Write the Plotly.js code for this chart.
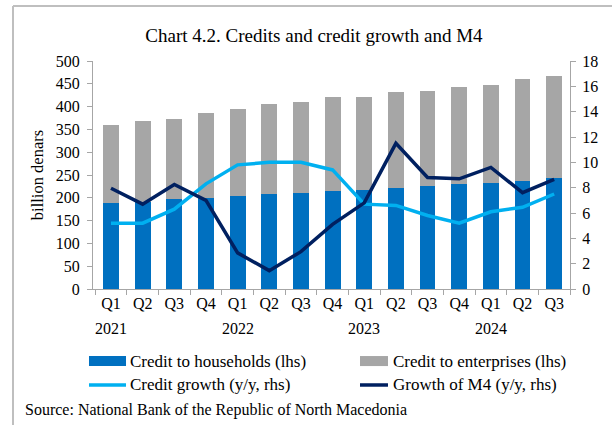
<!DOCTYPE html>
<html><head><meta charset="utf-8">
<script src="https://cdn.plot.ly/plotly-3.0.1.min.js"></script>
<style>html,body{margin:0;padding:0;background:#fff}#chart{width:612px;height:425px}</style>
</head><body><div id="chart"></div>
<script>
const categories = ["2021Q1","2021Q2","2021Q3","2021Q4","2022Q1","2022Q2","2022Q3","2022Q4","2023Q1","2023Q2","2023Q3","2023Q4","2024Q1","2024Q2","2024Q3"];
const tickLabels = ["Q1","Q2","Q3","Q4","Q1","Q2","Q3","Q4","Q1","Q2","Q3","Q4","Q1","Q2","Q3"];
const yearLabels = ["2021","2022","2023","2024"];
const yearAt = ["2021Q1","2022Q1","2023Q1","2024Q1"];
const households = [189,190,198,200,204,209,211,215,218,222,225,230,232,237,243];
const enterprises = [171,179,175,185,191,197,199,206,203,211,209,212,215,223,224];
const creditGrowth = [5.2,5.2,6.3,8.3,9.8,10.0,10.0,9.4,6.7,6.6,5.8,5.2,6.1,6.45,7.5];
const m4Growth = [7.95,6.7,8.25,7.0,2.85,1.45,2.95,5.1,6.8,11.5,8.8,8.7,9.6,7.6,8.65];
const seriesNames = ["Credit to households (lhs)","Credit to enterprises (lhs)","Credit growth (y/y, rhs)","Growth of M4 (y/y, rhs)"];
const seriesColors = ["#0070c0","#a6a6a6","#00b0f0","#002060"];

const FONT = "Liberation Serif, Times New Roman, serif";
const AX = "#a6a6a6";

const traces = [
  {type:"bar", name:seriesNames[0], x:categories, y:households, marker:{color:seriesColors[0]}, yaxis:"y"},
  {type:"bar", name:seriesNames[1], x:categories, y:enterprises, marker:{color:seriesColors[1]}, yaxis:"y"},
  {type:"scatter", mode:"lines", name:seriesNames[2], x:categories, y:creditGrowth, line:{color:seriesColors[2], width:3.5}, yaxis:"y2"},
  {type:"scatter", mode:"lines", name:seriesNames[3], x:categories, y:m4Growth, line:{color:seriesColors[3], width:3.5}, yaxis:"y2"}
];

const tick = {family:FONT,size:16,color:"#000"};
const legTxt = {family:FONT,size:17,color:"#000"};
const annotations = yearLabels.map((t,i)=>({text:t, x:yearAt[i], xref:"x", y:-0.175, yref:"paper", yanchor:"middle", showarrow:false, font:tick}));
annotations.push({text:"Source: National Bank of the Republic of North Macedonia", xref:"paper", yref:"paper", x:-0.1468, xanchor:"left", y:-0.531, yanchor:"middle", showarrow:false, font:{family:FONT,size:16,color:"#000"}});

// custom legend (2 columns x 2 rows)
const legCols = [[-0.0084,0.0692,0.0734],[0.5597,0.6184,0.6247]];
const legRows = [-0.316,-0.421];
const shapes = [
  {type:"line", xref:"paper", yref:"paper", x0:-0.1677, x1:1.1, y0:1.241, y1:1.241, line:{color:"#bfbfbf", width:2}},
  {type:"line", xref:"paper", yref:"paper", x0:-0.1677, x1:-0.1677, y0:1.241, y1:-0.6, line:{color:"#bfbfbf", width:2}}
];
seriesNames.forEach((n,i)=>{
  const c = legCols[i%2], r = legRows[Math.floor(i/2)];
  if (i<2) {
    shapes.push({type:"rect", xref:"paper", yref:"paper", x0:c[0], x1:c[1], y0:r-0.022, y1:r+0.022, line:{width:0}, fillcolor:seriesColors[i]});
  } else {
    shapes.push({type:"line", xref:"paper", yref:"paper", x0:c[0], x1:c[1], y0:r, y1:r, line:{color:seriesColors[i], width:3.5}});
  }
  annotations.push({text:n, xref:"paper", yref:"paper", x:c[2], xanchor:"left", y:r, yanchor:"middle", showarrow:false, font:legTxt});
});

const layout = {
  width:612, height:425,
  margin:{l:93, r:42, t:61, b:136},
  paper_bgcolor:"#fff", plot_bgcolor:"#fff",
  font:tick,
  title:{text:"Chart 4.2. Credits and credit growth and M4", x:0.513, xref:"container", xanchor:"center", y:0.918, yref:"container", yanchor:"middle", font:{family:FONT,size:19,color:"#000"}},
  barmode:"stack", bargap:0.5,
  showlegend:false,
  xaxis:{type:"category", tickmode:"array", tickvals:categories, ticktext:tickLabels, tickson:"boundaries", ticks:"outside", ticklen:5, tickcolor:AX, showline:true, linecolor:AX, linewidth:1, showgrid:false, zeroline:false, tickfont:tick, automargin:false},
  yaxis:{range:[0,500], dtick:50, ticks:"outside", ticklen:5, tickcolor:AX, showline:true, linecolor:AX, showgrid:false, zeroline:false, tickfont:tick, ticklabelstandoff:4, title:{text:"billion denars", font:{family:FONT,size:16.5,color:"#000"}, standoff:8}, automargin:false},
  yaxis2:{range:[0,18], dtick:2, overlaying:"y", side:"right", ticks:"outside", ticklen:5, tickcolor:AX, showline:true, linecolor:AX, showgrid:false, zeroline:false, tickfont:tick, ticklabelstandoff:3, automargin:false},
  annotations:annotations,
  shapes:shapes
};
Plotly.newPlot("chart", traces, layout, {displayModeBar:false, staticPlot:true});
</script></body></html>
